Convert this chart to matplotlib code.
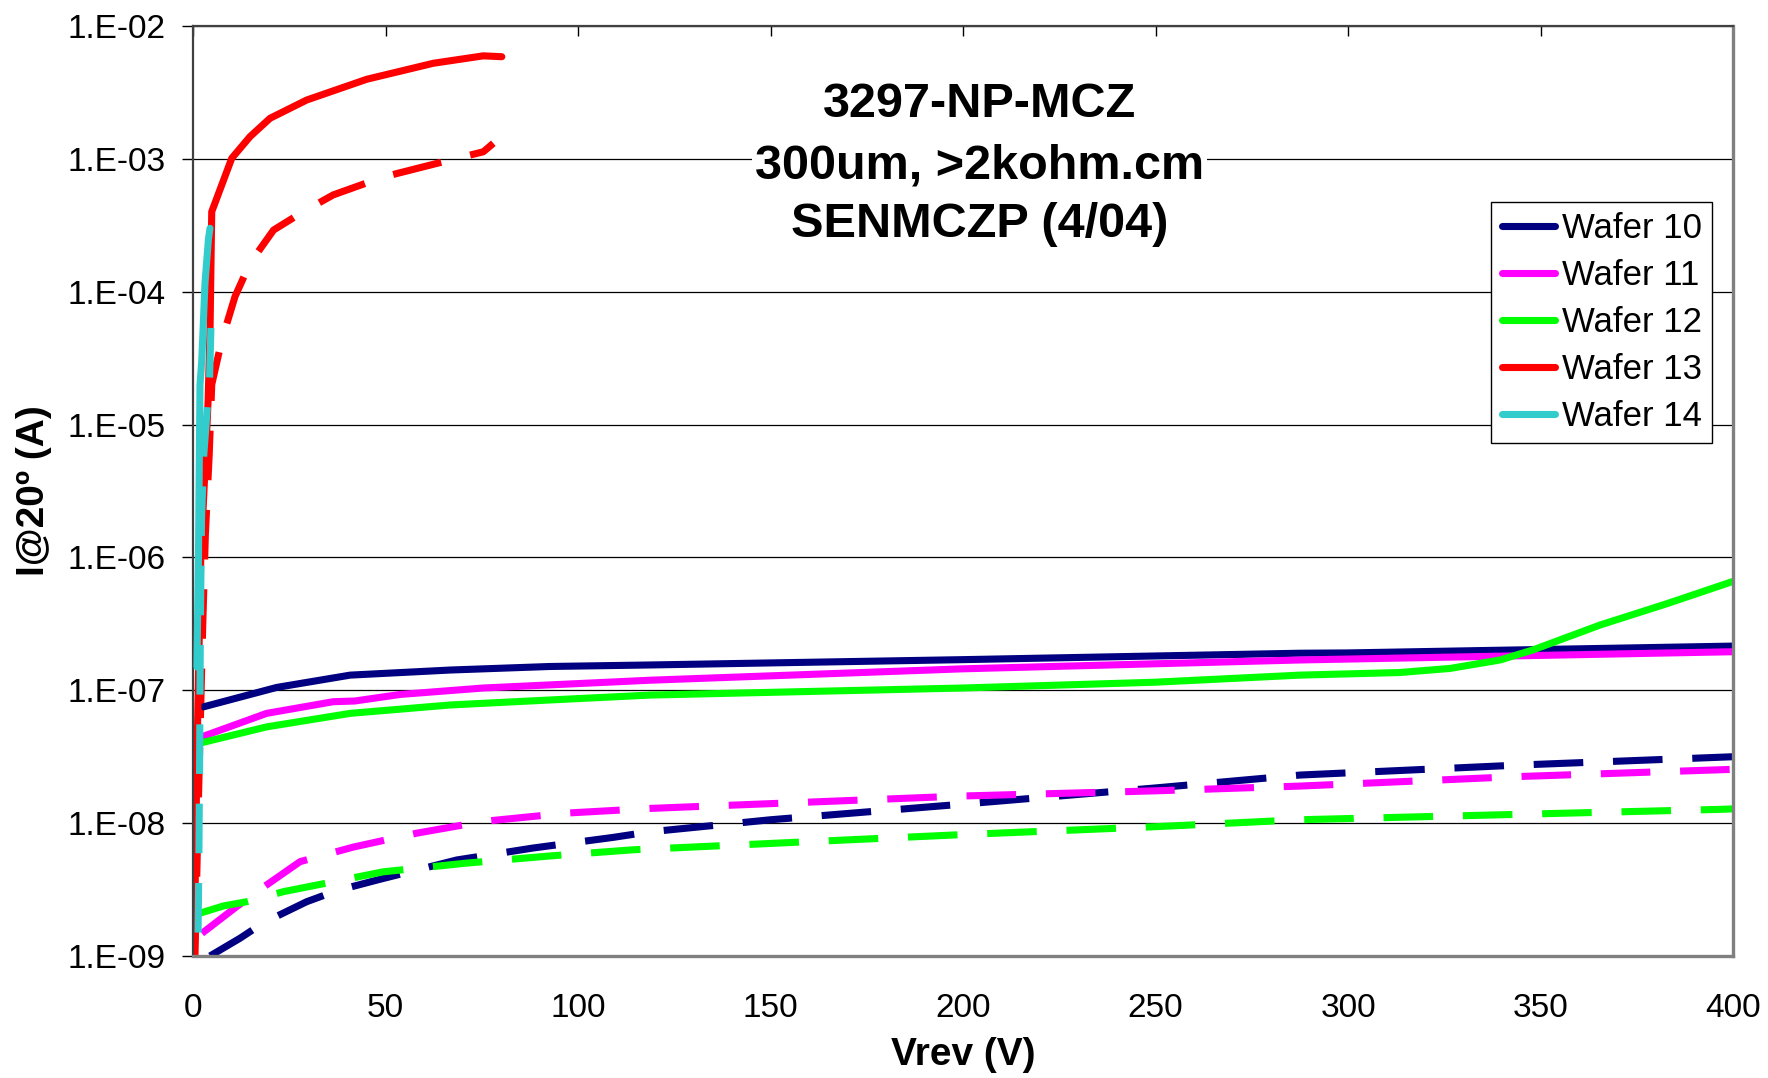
import matplotlib.pyplot as plt
import numpy as np

plt.rcParams['font.family'] = ['Liberation Sans', 'DejaVu Sans']

# series: voltage (V) and current (A)
v10 = [2.7, 21.7, 40.8, 66.8, 92.7, 118.7, 200, 287.5, 300, 400]
i10 = [7.5e-8, 1.05e-7, 1.30e-7, 1.42e-7, 1.51e-7, 1.55e-7, 1.70e-7, 1.90e-7, 1.91e-7, 2.15e-7]
v11 = [2.6, 19.1, 36.4, 42, 53.8, 75.4, 118.7, 200, 287.5, 400]
i11 = [4.5e-8, 6.7e-8, 8.2e-8, 8.3e-8, 9.3e-8, 1.04e-7, 1.19e-7, 1.45e-7, 1.69e-7, 1.95e-7]
v12 = [1.8, 19.1, 40.8, 66.8, 92.7, 118.7, 200, 250, 287.5, 313.5, 326.5, 339.5, 348, 365.5, 383, 400]
i12 = [4.0e-8, 5.3e-8, 6.7e-8, 7.75e-8, 8.45e-8, 9.2e-8, 1.04e-7, 1.15e-7, 1.30e-7, 1.36e-7, 1.46e-7,
       1.69e-7, 2.01e-7, 3.1e-7, 4.5e-7, 6.6e-7]
v13 = [0.3, 1.0, 2.0, 3.0, 3.9, 4.4, 4.85, 10.05, 14.8, 20, 29.5, 45.1, 62.4, 75.4, 80.2]
i13 = [1e-9, 3e-8, 1e-6, 4e-6, 1.5e-5, 4.9e-5, 4.0e-4, 1.01e-3, 1.47e-3, 2.02e-3, 2.77e-3, 3.97e-3,
       5.24e-3, 5.96e-3, 5.87e-3]
v14 = [1.0, 1.4, 1.8, 2.25, 3.1, 4.0, 4.4]
i14 = [1.5e-7, 1e-6, 2e-5, 3e-5, 1.16e-4, 2.5e-4, 3.0e-4]

# dashed set (no legend entries)
v10d = [4.4, 12.2, 18.3, 29.5, 37.3, 48.6, 68.5, 88.4, 109, 118.7, 150, 200, 250, 287.5, 345, 400]
i10d = [1.0e-9, 1.36e-9, 1.78e-9, 2.56e-9, 3.1e-9, 3.78e-9, 5.28e-9, 6.5e-9, 7.8e-9, 8.6e-9,
        1.06e-8, 1.39e-8, 1.84e-8, 2.30e-8, 2.74e-8, 3.16e-8]
v11d = [2.3, 11.3, 18.3, 27.8, 41.6, 58.1, 75.4, 97, 118.7, 200, 250, 287.5, 344, 400]
i11d = [1.48e-9, 2.35e-9, 3.3e-9, 5.13e-9, 6.6e-9, 8.4e-9, 1.03e-8, 1.19e-8, 1.29e-8, 1.6e-8,
        1.75e-8, 1.9e-8, 2.24e-8, 2.54e-8]
v12d = [1.8, 7.9, 13.9, 23.5, 33.9, 49.4, 71, 92.7, 114.3, 200, 250, 287.5, 397, 400]
i12d = [2.1e-9, 2.38e-9, 2.56e-9, 3.05e-9, 3.5e-9, 4.3e-9, 5.0e-9, 5.66e-9, 6.3e-9, 8.2e-9,
        9.4e-9, 1.06e-8, 1.27e-8, 1.28e-8]
v13d = [0.5, 1.5, 2.5, 3.2, 4.2, 4.85, 7.45, 10.9, 14.8, 20.9, 28.6, 36.4, 49.4, 66.8, 75.4, 78]
i13d = [1e-9, 2e-8, 3e-7, 1.5e-6, 6e-6, 2.0e-5, 4.3e-5, 9.2e-5, 1.64e-4, 2.91e-4, 4.0e-4, 5.35e-4,
        7.3e-4, 9.8e-4, 1.13e-3, 1.31e-3]
v14d = [1.3, 1.5, 1.7, 1.9, 2.2, 2.8, 4.3, 4.8]
i14d = [1.5e-9, 5e-9, 3e-8, 3e-7, 2e-6, 6e-6, 2.3e-5, 8e-5]

labels = ["Wafer 10", "Wafer 11", "Wafer 12", "Wafer 13", "Wafer 14"]
colors = ["#000080", "#FF00FF", "#00FF00", "#FF0000", "#33CCCC"]
solid = [(v10, i10), (v11, i11), (v12, i12), (v13, i13), (v14, i14)]
dashed = [(v10d, i10d), (v11d, i11d), (v12d, i12d), (v13d, i13d), (v14d, i14d)]

fig = plt.figure(figsize=(17.68, 10.78), dpi=100)
ax = fig.add_axes([0.1092, 0.1132, 0.871, 0.8627])

lw = 5.1
for k, ((x, y), c) in enumerate(zip(dashed, colors)):
    ax.plot(x, y, color=c, lw=lw, dashes=(7.0, 4.2), dash_capstyle='butt',
            zorder=3 if k == 4 else 2)
for k, ((x, y), c, lab) in enumerate(zip(solid, colors, labels)):
    ax.plot(x, y, color=c, lw=lw, label=lab, solid_capstyle='round',
            zorder=3.5 if k == 4 else 2.5)

ax.set_yscale('log')
ax.set_ylim(1e-9, 1e-2)
ax.set_xlim(0, 400)
ax.set_xticks(np.arange(0, 401, 50))
yt = [10.0 ** k for k in range(-9, -1)]
ax.set_yticks(yt)
ax.set_yticklabels(["1.E-%02d" % (-k) for k in range(-9, -1)])
ax.yaxis.set_minor_locator(plt.NullLocator())
ax.grid(True, axis='y', color='black', lw=0.9)

ax.tick_params(axis='y', direction='out', length=8, width=1, pad=12, labelsize=24)
ax.tick_params(axis='x', top=True, bottom=False, direction='in', length=7, width=1,
               pad=27, labelsize=24)

ax.spines['left'].set_color('#404040')
ax.spines['left'].set_linewidth(1.6)
ax.spines['top'].set_color('#404040')
ax.spines['top'].set_linewidth(1.6)
ax.spines['bottom'].set_color('#808080')
ax.spines['bottom'].set_linewidth(2.4)
ax.spines['right'].set_color('#808080')
ax.spines['right'].set_linewidth(2.4)

ax.set_xlabel("Vrev (V)", fontsize=28, fontweight='bold')
ax.set_ylabel("I@20º (A)", fontsize=28, fontweight='bold')
ax.xaxis.set_label_coords(0.5, -0.087)
ax.yaxis.set_label_coords(-0.0916, 0.5)

ax.text(0.511, 0.916, "3297-NP-MCZ", transform=ax.transAxes, ha='center', va='center',
        fontsize=35, fontweight='bold')
ax.text(0.511, 0.849, "300um, >2kohm.cm", transform=ax.transAxes, ha='center', va='center',
        fontsize=35, fontweight='bold',
        bbox=dict(facecolor='white', edgecolor='none', pad=2))
ax.text(0.511, 0.786, "SENMCZP (4/04)", transform=ax.transAxes, ha='center', va='center',
        fontsize=35, fontweight='bold')

leg = ax.legend(loc='upper right', bbox_to_anchor=(0.9864, 0.8108), fontsize=25,
                frameon=True, fancybox=False, framealpha=1, edgecolor='black',
                borderpad=0.3, labelspacing=0.4, handlelength=1.55, handletextpad=0.18,
                borderaxespad=0)
leg.get_frame().set_linewidth(1.0)

fig.savefig("out.png", dpi=100)
